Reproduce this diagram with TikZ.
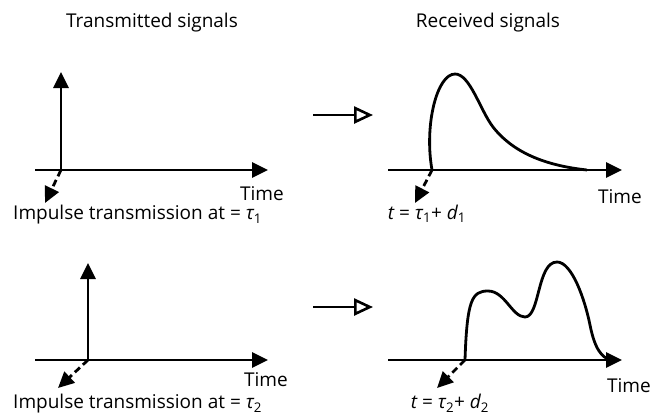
\documentclass[tikz,border=0pt]{standalone}
\usepackage{fontspec}
\setmainfont{Open Sans}
\usetikzlibrary{arrows.meta}

\begin{document}
\begin{tikzpicture}[
  x=1pt, y=-1pt,
  axis/.style={line width=2.8pt, -{Triangle[length=16pt,width=15pt]}},
  pulse/.style={line width=2.8pt},
  delay/.style={line width=2.8pt, dash pattern=on 7pt off 4pt, -{Triangle[length=16pt,width=15pt]}},
  flow/.style={line width=2.6pt, -{Triangle[open,length=19pt,width=17pt,line width=2.6pt]}},
  every node/.style={font=\fontsize{19}{22}\selectfont, inner sep=0pt}
]
\useasboundingbox (0,0) rectangle (653,415);

\node (tx) at (152,23) {Transmitted signals};
\node (rx) at (488,23) {Received signals};

% transmitted impulse, first
\coordinate (a1s) at (35,170);
\coordinate (a1e) at (268,170);
\coordinate (o1) at (61,170);
\coordinate (v1) at (61,72);
\coordinate (d1) at (45,203);
\draw[axis] (a1s) -- (a1e);
\draw[axis] (o1) -- (v1);
\draw[delay] (o1) -- (d1);
\node (time1) at (262,194) {Time};
\node (imp1) [anchor=west] at (13,215) {Impulse transmission at = {\itshape τ}\textsubscript{1}};

% transmitted impulse, second
\coordinate (a2s) at (35,360);
\coordinate (a2e) at (268,360);
\coordinate (o2) at (88,360);
\coordinate (v2) at (88,263);
\coordinate (d2) at (58,388);
\draw[axis] (a2s) -- (a2e);
\draw[axis] (o2) -- (v2);
\draw[delay] (o2) -- (d2);
\node (time2) at (266,380) {Time};
\node (imp2) [anchor=west] at (13,404) {Impulse transmission at = {\itshape τ}\textsubscript{2}};

% channel arrows
\coordinate (f1s) at (313,115);
\coordinate (f1e) at (373,115);
\coordinate (f2s) at (313,307);
\coordinate (f2e) at (373,307);
\draw[flow] (f1s) -- (f1e);
\draw[flow] (f2s) -- (f2e);

% received signal, first
\coordinate (b1s) at (388,170);
\coordinate (b1e) at (622,170);
\coordinate (r1) at (432,170);
\coordinate (e1) at (415,203);
\draw[axis] (b1s) -- (b1e);
\draw[pulse] (r1) .. controls (424,125) and (437,74) .. (455,74)
  .. controls (470,74) and (480,110) .. (493,127)
  .. controls (515,155) and (550,166) .. (587,170);
\draw[delay] (r1) -- (e1);
\node (time3) at (620,197) {Time};
\node (del1) at (427,214) {{\itshape t} = {\itshape τ}\textsubscript{1}+ {\itshape d}\textsubscript{1}};

% received signal, second
\coordinate (b2s) at (388,360);
\coordinate (b2e) at (622,360);
\coordinate (r2) at (465,360);
\coordinate (e2) at (437,388);
\draw[axis] (b2s) -- (b2e);
\draw[pulse] (r2) .. controls (467,300) and (472,291) .. (488,291)
  .. controls (505,291) and (512,317) .. (525,317)
  .. controls (540,317) and (537,262) .. (557,262)
  .. controls (572,262) and (585,300) .. (590,325)
  .. controls (595,350) and (602,357) .. (610,360);
\draw[delay] (r2) -- (e2);
\node (time4) at (629,386) {Time};
\node (del2) at (450,403) {{\itshape t} = {\itshape τ}\textsubscript{2}+ {\itshape d}\textsubscript{2}};
\end{tikzpicture}
\end{document}
